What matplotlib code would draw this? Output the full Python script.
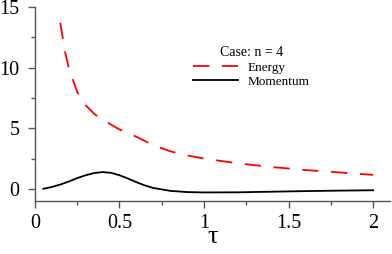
import matplotlib
matplotlib.use("Agg")
import matplotlib.pyplot as plt
import numpy as np

# values
tau_energy = [0.15, 0.18, 0.2, 0.25, 0.3, 0.35, 0.4, 0.5, 0.6, 0.7, 0.8, 0.9, 1.0,
              1.2, 1.4, 1.6, 1.8, 2.0]
energy = [13.7, 11.2, 10.0, 8.0, 6.9, 6.2, 5.7, 4.9, 4.3, 3.6, 3.1, 2.75, 2.5,
          2.1, 1.8, 1.55, 1.35, 1.15]

tau_mom = [0.05, 0.1, 0.15, 0.2, 0.25, 0.3, 0.35, 0.4, 0.45, 0.5, 0.55, 0.6, 0.65,
           0.7, 0.8, 0.9, 1.0, 1.2, 1.4, 1.6, 1.8, 2.0]
momentum = [0.0, 0.15, 0.35, 0.6, 0.88, 1.12, 1.3, 1.38, 1.32, 1.12, 0.85, 0.55,
            0.28, 0.07, -0.17, -0.27, -0.3, -0.29, -0.24, -0.19, -0.15, -0.12]

plt.rcParams['font.family'] = ['Liberation Serif', 'DejaVu Serif']

fig = plt.figure(figsize=(3.92, 2.54), dpi=100)
ax = fig.add_axes([0.089, 0.209, 0.906, 0.763])

ax.plot(tau_energy, energy, color='red', lw=1.3, dashes=(9, 7), label='Energy')
ax.plot(tau_mom, momentum, color='black', lw=1.3, label='Momentum')

ax.set_xlim(0, 2.1)
ax.set_ylim(-1, 15)
ax.set_xticks([0, 0.5, 1, 1.5, 2])
ax.set_xticklabels(['0', '0.5', '1', '1.5', '2'])
ax.set_xticks(np.arange(0.25, 2.1, 0.5), minor=True)
ax.set_yticks([0, 5, 10, 15])
ax.set_yticks([2.5, 7.5, 12.5], minor=True)

for s in ['top', 'right']:
    ax.spines[s].set_visible(False)
for s in ['left', 'bottom']:
    ax.spines[s].set_color('#555555')
    ax.spines[s].set_linewidth(1.0)

ax.tick_params(which='major', direction='out', length=5, width=1, color='#555555',
               labelsize=14.5, pad=6)
ax.tick_params(axis='x', which='major', pad=4.5)
ax.tick_params(which='minor', direction='out', length=3, width=1, color='#555555')

ax.set_xlabel('τ', fontsize=19, labelpad=-5)

leg = ax.legend(loc='upper left', bbox_to_anchor=(0.42, 0.845), frameon=False,
                fontsize=9.5, title='Case: n = 4', title_fontsize=10,
                handlelength=3.4, handletextpad=0.75, labelspacing=0.15,
                borderpad=0.2)

fig.savefig('out.png', dpi=100)
